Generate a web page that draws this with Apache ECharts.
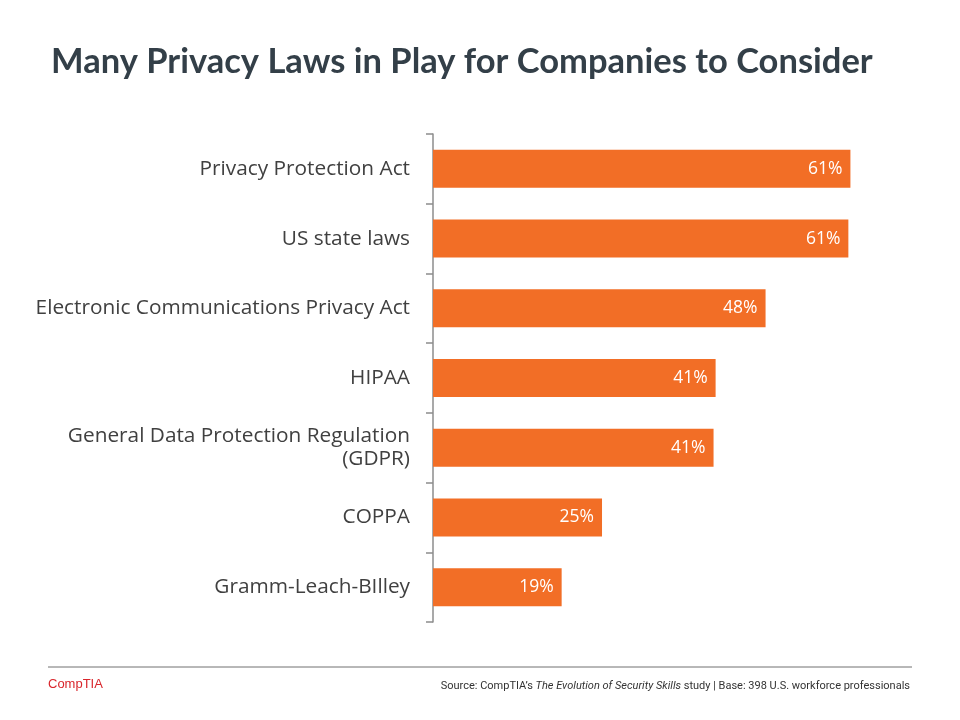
<!DOCTYPE html>
<html><head><meta charset="utf-8">
<script src="https://cdn.jsdelivr.net/npm/echarts@6/dist/echarts.min.js"></script>
<style>html,body{margin:0;padding:0;background:#fff}#c{width:960px;height:720px}</style>
</head><body><div id="c"></div>
<script>
const categories = ["Privacy Protection Act","US state laws","Electronic Communications Privacy Act","HIPAA","General Data Protection Regulation\n(GDPR)","COPPA","Gramm-Leach-BIlley"];
const values = [61.0, 60.7, 48.6, 41.3, 41.0, 24.7, 18.8];
const labels = ["61%","61%","48%","41%","41%","25%","19%"];

const chart = echarts.init(document.getElementById('c'));
chart.setOption({
  backgroundColor:'#fff',
  animation:false,
  title:{text:'Many Privacy Laws in Play for Companies to Consider',left:46,top:39,
    textStyle:{fontFamily:'Lato',fontWeight:'bold',fontSize:34.5,color:'#333f48'}},
  grid:{left:433,top:134,width:479,height:488,containLabel:false},
  xAxis:{type:'value',min:0,max:70,show:false},
  yAxis:{type:'category',data:categories,inverse:true,
    axisLine:{show:true,lineStyle:{color:'#8c8c8c',width:1.5}},
    axisTick:{show:true,alignWithLabel:false,interval:0,inside:false,length:7,lineStyle:{color:'#8c8c8c',width:1.5}},
    axisLabel:{margin:23,fontFamily:'Open Sans',fontSize:20.8,color:'#404040',align:'right',lineHeight:23}},
  series:[{type:'bar',data:values,barWidth:38,itemStyle:{color:'#f26e26'},
    label:{show:true,position:'insideRight',distance:8,color:'#fff',fontFamily:'Open Sans',fontSize:17.5,
      formatter:p=>labels[p.dataIndex]}}],
  graphic:[
    {type:'line',shape:{x1:48,y1:667,x2:912,y2:667},style:{stroke:'#707070',lineWidth:1}},
    {type:'text',left:48,top:678,style:{text:'CompTIA',fill:'#d9262c',fontFamily:'Liberation Sans',fontSize:13}},
    {type:'text',right:50,top:681,style:{
      text:'{n|Source: CompTIA’s }{i|The Evolution of Security Skills}{n| study | Base: 398 U.S. workforce professionals}',
      rich:{n:{fontFamily:'Roboto',fontSize:11,fill:'#333'},i:{fontFamily:'Roboto',fontStyle:'italic',fontSize:11,fill:'#333'}}}}
  ]
});
</script></body></html>
